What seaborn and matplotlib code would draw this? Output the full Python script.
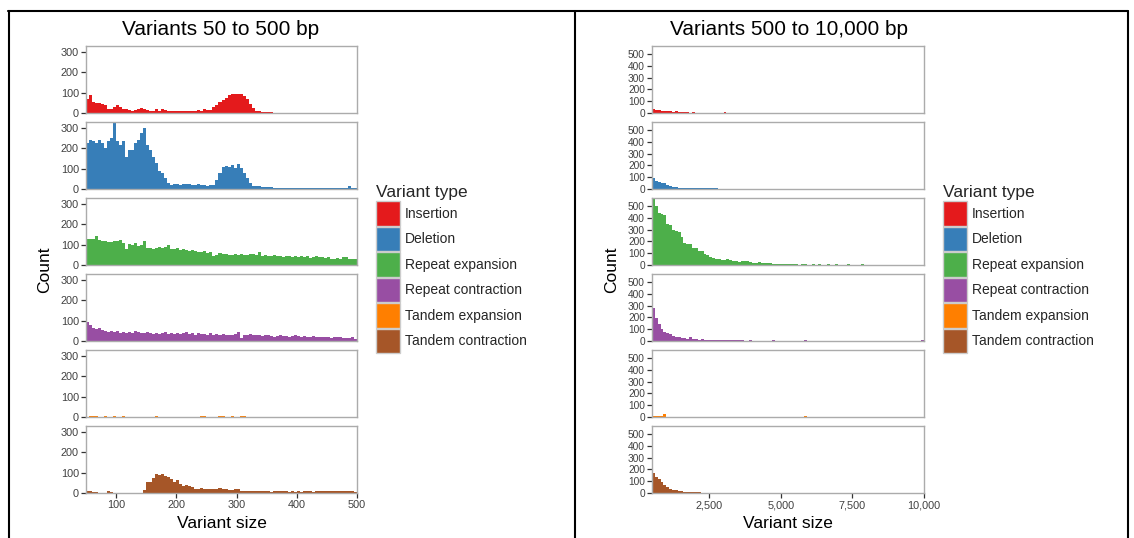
import numpy as np
import pandas as pd
import matplotlib
matplotlib.use("Agg")
import matplotlib.pyplot as plt
import matplotlib.patches as mpatches
from matplotlib.lines import Line2D
from matplotlib.ticker import FuncFormatter
import seaborn as sns

# ---------------------------------------------------------------------------
# Histogram counts per size bin.
# Short variants: 5 bp bins starting at 50 bp.
# Long variants: 100 bp bins starting at 500 bp.
# ---------------------------------------------------------------------------
variant_types = ["Insertion", "Deletion", "Repeat expansion",
                 "Repeat contraction", "Tandem expansion", "Tandem contraction"]
type_colors = ["#E41A1C", "#377EB8", "#4DAF4A", "#984EA3", "#FF7F00", "#A65628"]

short_start, short_width = 50, 5
long_start, long_width = 500, 100

insertion_short = [
    68, 88, 55, 50, 48, 45, 40, 18, 20, 30,
    38, 32, 20, 18, 15, 12, 15, 20, 25, 22,
    15, 10, 12, 18, 12, 22, 15, 12, 10, 10,
    8, 10, 8, 10, 12, 8, 12, 15, 10, 18,
    15, 15, 30, 40, 55, 65, 75, 88, 95, 93,
    95, 92, 85, 70, 45, 25, 12, 8, 5, 4,
    3, 3, 2, 2, 1, 0, 0, 0, 0, 0,
    0, 0, 0, 0, 0, 0, 0, 0, 0, 0,
    0, 0, 0, 0, 0, 0, 0, 0, 0, 0]
deletion_short = [
    226, 243, 238, 226, 240, 226, 202, 234, 250, 330,
    234, 218, 234, 160, 193, 193, 226, 243, 275, 300,
    218, 193, 160, 128, 87, 79, 54, 30, 22, 24,
    25, 22, 23, 25, 24, 22, 21, 23, 20, 18,
    13, 18, 21, 46, 79, 107, 111, 107, 116, 103,
    123, 103, 79, 54, 30, 16, 16, 15, 12, 12,
    10, 8, 7, 7, 6, 5, 5, 4, 4, 3,
    3, 4, 3, 5, 3, 4, 6, 3, 3, 4,
    3, 5, 3, 4, 3, 3, 4, 16, 3, 3]
repeat_exp_short = [
    128, 128, 130, 142, 125, 120, 118, 112, 115, 120,
    118, 122, 108, 80, 105, 100, 110, 95, 100, 118,
    85, 82, 80, 85, 88, 82, 90, 100, 78, 80,
    82, 75, 78, 72, 70, 72, 68, 66, 65, 68,
    60, 65, 45, 48, 58, 55, 52, 50, 48, 55,
    50, 52, 50, 48, 52, 55, 50, 62, 45, 48,
    45, 42, 50, 45, 44, 40, 42, 45, 40, 42,
    38, 42, 40, 44, 36, 38, 42, 38, 40, 35,
    38, 32, 30, 36, 28, 40, 38, 30, 32, 30]
repeat_con_short = [
    95, 80, 65, 60, 62, 55, 50, 45, 50, 42,
    48, 40, 45, 38, 42, 40, 50, 42, 38, 40,
    42, 38, 36, 40, 35, 38, 42, 36, 38, 34,
    40, 36, 38, 42, 35, 38, 32, 40, 36, 34,
    30, 38, 32, 35, 30, 34, 28, 32, 30, 35,
    42, 15, 32, 30, 34, 28, 30, 32, 26, 28,
    30, 26, 20, 25, 28, 26, 24, 22, 26, 28,
    24, 22, 25, 20, 22, 24, 20, 18, 22, 20,
    18, 16, 20, 22, 18, 15, 16, 14, 18, 12]
tandem_exp_short = [
    0, 4, 5, 4, 0, 0, 3, 0, 0, 3,
    0, 0, 3, 0, 0, 0, 0, 0, 0, 0,
    0, 0, 0, 4, 0, 0, 0, 0, 0, 0,
    0, 0, 0, 0, 0, 0, 0, 0, 4, 4,
    0, 0, 0, 0, 5, 4, 0, 0, 3, 0,
    0, 4, 3, 0, 0, 0, 0, 0, 0, 0,
    0, 0, 0, 0, 0, 0, 0, 0, 0, 0,
    0, 0, 0, 0, 0, 0, 0, 0, 0, 0,
    0, 0, 0, 0, 0, 0, 0, 0, 0, 0]
tandem_con_short = [
    12, 10, 5, 4, 2, 2, 2, 8, 7, 1,
    0, 0, 0, 0, 0, 0, 0, 0, 1, 15,
    55, 55, 75, 95, 90, 92, 85, 80, 70, 55,
    63, 45, 35, 40, 35, 28, 22, 18, 25, 22,
    22, 22, 22, 18, 25, 20, 20, 15, 15, 18,
    18, 10, 12, 12, 10, 12, 12, 10, 10, 12,
    8, 6, 12, 8, 10, 12, 8, 6, 8, 4,
    8, 6, 8, 10, 8, 7, 9, 10, 8, 8,
    9, 10, 10, 12, 10, 11, 9, 10, 8, 6]

insertion_long = [
    34, 29, 23, 20, 17, 14, 17, 11, 14, 9,
    9, 5, 6, 4, 6, 3, 4, 2, 3, 2,
    1, 0, 2, 0, 1, 6, 0, 0, 0, 0]
deletion_long = [
    91, 71, 57, 49, 51, 37, 29, 20, 14, 11,
    11, 9, 8, 7, 6, 6, 8, 6, 7, 5,
    6, 8, 6, 0, 0, 0, 0, 0, 0, 0]
repeat_exp_long = [
    568, 500, 440, 435, 420, 350, 337, 300, 290, 280,
    234, 190, 178, 175, 145, 140, 120, 118, 90, 85,
    65, 62, 52, 50, 42, 40, 55, 42, 38, 30,
    28, 32, 30, 35, 22, 20, 20, 22, 18, 15,
    20, 14, 12, 10, 12, 8, 7, 6, 5, 8,
    6, 4, 5, 6, 4, 3, 5, 4, 6, 3,
    4, 8, 3, 4, 5, 3, 4, 3, 8, 4,
    3, 4, 3, 5, 4, 3, 2, 4, 3, 3,
    2, 3, 4, 2, 3, 2, 3, 2, 4, 3,
    2, 3, 2, 2, 3]
repeat_con_long = [
    280, 195, 145, 100, 80, 65, 57, 45, 37, 31,
    28, 23, 17, 31, 15, 14, 12, 14, 12, 10,
    10, 8, 8, 6, 8, 6, 6, 5, 6, 10,
    5, 5, 4, 4, 6, 4, 3, 4, 3, 3,
    4, 3, 12, 4, 3, 3, 3, 2, 3, 4,
    2, 3, 2, 5, 3, 2, 3, 2, 4, 3,
    2, 3, 2, 3, 4, 2, 3, 2, 3, 2,
    4, 2, 3, 2, 2, 3, 2, 4, 2, 3,
    2, 2, 3, 2, 3, 2, 3, 2, 2, 3,
    2, 3, 2, 4, 10]
tandem_exp_long = [
    10, 9, 8, 8, 25, 0, 0, 0, 0, 0,
    0, 0, 0, 0, 0, 0, 0, 0, 0, 0,
    0, 0, 0, 0, 0, 0, 0, 0, 0, 0,
    0, 0, 0, 0, 0, 0, 0, 0, 0, 0,
    0, 0, 0, 0, 0, 0, 0, 0, 0, 0,
    0, 0, 0, 8, 0]
tandem_con_long = [
    171, 137, 120, 94, 71, 51, 37, 29, 23, 17,
    14, 11, 9, 8, 6, 8, 5, 2, 1, 1]

short_ticks = [100, 200, 300, 400, 500]
long_ticks = [2500, 5000, 7500, 10000]
short_yticks = [0, 100, 200, 300]
long_yticks = [0, 100, 200, 300, 400, 500]

# ---------------------------------------------------------------------------
sns.set_style("ticks")
plt.rcParams["font.family"] = ["Liberation Sans", "DejaVu Sans"]

W, H = 1134, 538
fig = plt.figure(figsize=(W / 100, H / 100), dpi=100)


def fx(px):
    return px / W


def fy(py):
    return 1 - py / H


FACET_TOP, FACET_STEP, FACET_H = 46, 76, 67
BORDER = "#ababab"


def draw_panel(series, start, width, x0, x1, xlim, xticks, xfmt,
               yticks, ytick_size):
    ymax = max(max(s) for s in series)
    n = len(series)
    for i, (counts, color) in enumerate(zip(series, type_colors)):
        top = FACET_TOP + FACET_STEP * i
        ax = fig.add_axes([fx(x0), fy(top + FACET_H), fx(x1 - x0), FACET_H / H])
        edges = [start + width * k for k in range(len(counts) + 1)]
        binned = pd.DataFrame({
            "size": [(a + b) / 2 for a, b in zip(edges[:-1], edges[1:])],
            "count": [float(c) for c in counts],
        })
        sns.histplot(data=binned, x="size", weights="count", bins=edges,
                     ax=ax, element="step", fill=True, color=color,
                     alpha=1, linewidth=0)
        ax.set_xlim(*xlim)
        ax.set_ylim(0, ymax)
        ax.set_yticks(yticks)
        ax.set_xticks(xticks)
        ax.xaxis.set_major_formatter(FuncFormatter(xfmt))
        ax.set_xlabel("")
        ax.set_ylabel("")
        for sp in ax.spines.values():
            sp.set_visible(True)
            sp.set_color(BORDER)
            sp.set_linewidth(1.0)
        ax.tick_params(axis="both", direction="out", length=3.6, width=0.9,
                       color="#333333", labelcolor="#404040", pad=1.5)
        ax.tick_params(axis="y", labelsize=ytick_size)
        ax.tick_params(axis="x", labelsize=7.8)
        if i < n - 1:
            ax.tick_params(axis="x", bottom=False, labelbottom=False)


short_series = [insertion_short, deletion_short, repeat_exp_short,
                repeat_con_short, tandem_exp_short, tandem_con_short]
long_series = [insertion_long, deletion_long, repeat_exp_long,
               repeat_con_long, tandem_exp_long, tandem_con_long]

draw_panel(short_series, short_start, short_width, 86, 357, (50, 500),
           short_ticks, lambda v, p: f"{int(v)}", short_yticks, 7.8)
draw_panel(long_series, long_start, long_width, 652, 924, (500, 10000),
           long_ticks, lambda v, p: f"{int(v):,}", long_yticks, 7.3)

# Titles and axis labels
for cx, title in [(221, "Variants 50 to 500 bp"), (789, "Variants 500 to 10,000 bp")]:
    fig.text(fx(cx), fy(35), title, ha="center", va="baseline",
             fontsize=15, color="black")
for cx in (221.5, 788):
    fig.text(fx(cx), fy(528), "Variant size", ha="center", va="baseline",
             fontsize=12.5, color="black")
for cx in (45, 611.5):
    fig.text(fx(cx), fy(270), "Count", ha="center", va="center",
             rotation=90, fontsize=12.5, color="black")

# Legends: square keys of about 24 px stacked with a 1-2 px gap
handles = [mpatches.Patch(facecolor=c, edgecolor="#cccccc", linewidth=1.0,
                          label=t) for c, t in zip(type_colors, variant_types)]
for lx in (376, 943):
    fig.legend(handles=handles, loc="upper left",
               bbox_to_anchor=(fx(lx), fy(185)), frameon=False,
               title="Variant type", title_fontsize=12.5, fontsize=10,
               alignment="left", borderpad=0, borderaxespad=0,
               handlelength=1.75, handleheight=2.315, labelspacing=0.09,
               handletextpad=0.32)

# Outer frame and divider
frame_kw = dict(color="black", linewidth=1.5, transform=fig.transFigure)
fig.add_artist(Line2D([fx(8), fx(1128)], [fy(11), fy(11)], **frame_kw))
for x in (8.5, 574.5, 1128):
    fig.add_artist(Line2D([fx(x), fx(x)], [fy(11), 0], **frame_kw))

fig.savefig("out.png", dpi=100, facecolor="white")
